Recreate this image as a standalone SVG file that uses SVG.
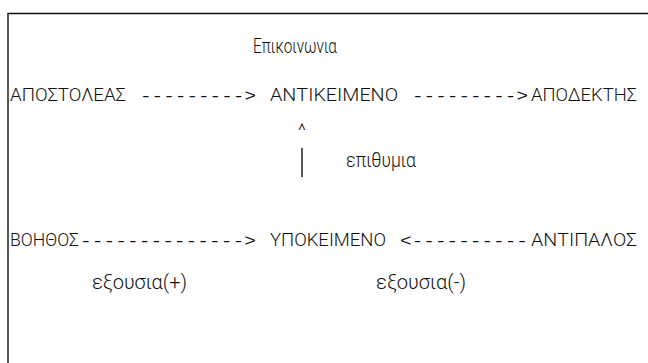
<svg xmlns="http://www.w3.org/2000/svg" width="648" height="363" viewBox="0 0 648 363">
<style>
  text { font-family: "Roboto", "Liberation Sans", sans-serif; font-weight: 300; font-size: 19px; fill: #111; }
  .lc { font-size: 21px; }
  .dash { font-family: "Liberation Mono", "DejaVu Sans Mono", monospace; font-weight: 400; font-size: 17px; }
  .frame { stroke: #111; stroke-width: 1.4; fill: none; }
  .bar { stroke: #111; stroke-width: 1.4; }
</style>
<rect width="648" height="363" fill="#fff"/>
<path class="frame" d="M8,363 V13.5 H648"/>
<text id="title" class="lc" x="253" y="53" textLength="84" lengthAdjust="spacingAndGlyphs">Επικοινωνια</text>
<g id="apostoleas"><text x="10" y="101" textLength="116" lengthAdjust="spacingAndGlyphs">ΑΠΟΣΤΟΛΕΑΣ</text></g>
<g id="antikeimeno"><text x="270" y="101" textLength="128" lengthAdjust="spacingAndGlyphs">ΑΝΤΙΚΕΙΜΕΝΟ</text></g>
<g id="apodektis"><text x="531" y="101" textLength="106" lengthAdjust="spacingAndGlyphs">ΑΠΟΔΕΚΤΗΣ</text></g>
<g id="voithos"><text x="10" y="246" textLength="69" lengthAdjust="spacingAndGlyphs">ΒΟΗΘΟΣ</text></g>
<g id="ypokeimeno"><text x="270" y="246" textLength="116" lengthAdjust="spacingAndGlyphs">ΥΠΟΚΕΙΜΕΝΟ</text></g>
<g id="antipalos"><text x="531" y="246" textLength="106" lengthAdjust="spacingAndGlyphs">ΑΝΤΙΠΑΛΟΣ</text></g>
<g id="connectors">
  <text class="dash" x="140" y="101" textLength="116" lengthAdjust="spacingAndGlyphs">---------&gt;</text>
  <text class="dash" x="412" y="101" textLength="116" lengthAdjust="spacingAndGlyphs">---------&gt;</text>
  <text class="dash" x="80" y="246" textLength="176" lengthAdjust="spacingAndGlyphs">--------------&gt;</text>
  <text class="dash" x="400" y="246" textLength="128" lengthAdjust="spacingAndGlyphs">&lt;----------</text>
  <text x="298" y="137" font-size="14">^</text>
  <line class="bar" x1="302" y1="148" x2="302" y2="177"/>
  <text class="lc" x="346" y="167" textLength="70" lengthAdjust="spacingAndGlyphs">επιθυμια</text>
  <text class="lc" x="92" y="289" textLength="95" lengthAdjust="spacingAndGlyphs">εξουσια(+)</text>
  <text class="lc" x="376" y="289" textLength="90" lengthAdjust="spacingAndGlyphs">εξουσια(-)</text>
</g>
</svg>
